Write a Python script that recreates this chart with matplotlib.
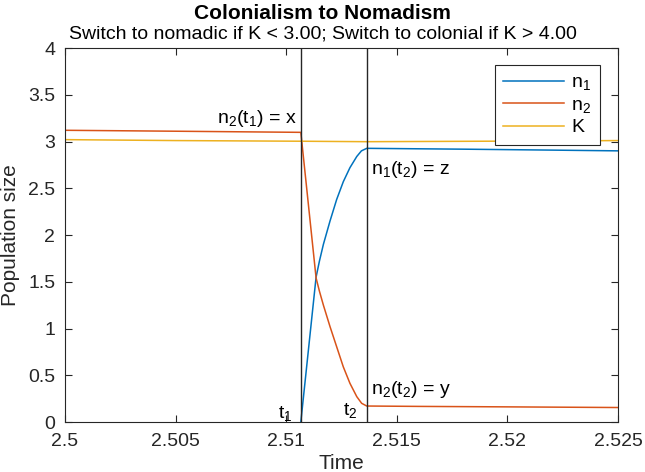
import matplotlib
matplotlib.use("Agg")
import matplotlib.pyplot as plt
import numpy as np

plt.rcParams['font.family'] = ['Liberation Sans', 'DejaVu Sans']
plt.rcParams['mathtext.fontset'] = 'custom'
plt.rcParams['mathtext.rm'] = 'Liberation Sans'
plt.rcParams['mathtext.default'] = 'regular'

# switch times
t1 = 2.51066
t2 = 2.51364

# n1 (colonial) - starts at t1
n1_t = [t1, 2.51135, 2.51150, 2.51168, 2.51198, 2.51228, 2.51258, 2.51288, 2.51319, 2.51340, t2,
        2.5160, 2.5180, 2.5200, 2.5220, 2.5250]
n1_v = [0.0, 1.55, 1.72, 1.90, 2.15, 2.38, 2.57, 2.72, 2.84, 2.90, 2.927,
        2.922, 2.918, 2.913, 2.908, 2.900]

# n2 (nomadic)
n2_t = [2.5000, 2.5050, t1, 2.51135, 2.51150, 2.51168, 2.51198, 2.51228, 2.51258, 2.51288, 2.51319,
        2.51341, t2, 2.5160, 2.5200, 2.5250]
n2_v = [3.120, 3.110, 3.098, 1.54, 1.40, 1.25, 1.02, 0.805, 0.59, 0.414, 0.271,
        0.20, 0.171, 0.167, 0.162, 0.155]

# carrying capacity
K_t = [2.5000, 2.5050, t1, t2, 2.5200, 2.5250]
K_v = [3.020, 3.010, 3.003, 2.998, 3.004, 3.010]

blue = '#0072BD'
orange = '#D95319'
yellow = '#EDB120'
dark = '#262626'

fig = plt.figure(figsize=(6.45, 4.72), dpi=100)
ax = fig.add_axes([0.1008, 0.1059, 0.8574, 0.7924])

ax.plot(n1_t, n1_v, color=blue, lw=1.1, label='n$_1$')
ax.plot(n2_t, n2_v, color=orange, lw=1.1, label='n$_2$')
ax.plot(K_t, K_v, color=yellow, lw=1.1, label='K')
ax.axvline(t1, color=dark, lw=1.0)
ax.axvline(t2, color=dark, lw=1.0)

ax.set_xlim(2.5, 2.525)
ax.set_ylim(0, 4)
ax.set_xticks([2.5, 2.505, 2.51, 2.515, 2.52, 2.525])
ax.set_xticklabels(['2.5', '2.505', '2.51', '2.515', '2.52', '2.525'])
ax.set_yticks(np.arange(0, 4.01, 0.5))
ax.set_yticklabels(['0', '0.5', '1', '1.5', '2', '2.5', '3', '3.5', '4'])
ax.tick_params(direction='in', top=True, right=True, labelsize=14, colors=dark,
               length=5, width=0.8)
ax.tick_params(axis='x', pad=8)
ax.tick_params(axis='y', pad=7)
for s in ax.spines.values():
    s.set_color(dark)
    s.set_linewidth(0.8)

ax.set_xlabel('Time', fontsize=15, color=dark, labelpad=3)
ax.set_ylabel('Population size', fontsize=15, color=dark, labelpad=6)

fig.text(0.5, 0.972, 'Colonialism to Nomadism', ha='center', va='center',
         fontsize=15, fontweight='bold', color='black')
fig.text(0.5, 0.929, 'Switch to nomadic if K < 3.00; Switch to colonial if K > 4.00',
         ha='center', va='center', fontsize=14, color='black')

ax.text(t1 - 0.0002, 3.25, 'n$_2$(t$_1$) = x', ha='right', va='center', fontsize=14)
ax.text(t2 + 0.0002, 2.70, 'n$_1$(t$_2$) = z', ha='left', va='center', fontsize=14)
ax.text(t2 + 0.0002, 0.35, 'n$_2$(t$_2$) = y', ha='left', va='center', fontsize=14)
ax.text(t1 - 0.0004, 0.09, 't$_1$', ha='right', va='center', fontsize=14)
ax.text(t2 - 0.0004, 0.12, 't$_2$', ha='right', va='center', fontsize=14)

leg = ax.legend(loc='upper right', bbox_to_anchor=(0.9675, 0.9545), borderaxespad=0,
                fontsize=14, handlelength=3.1, handletextpad=0.4, labelspacing=0.2,
                borderpad=0.45, fancybox=False, framealpha=1)
leg.get_frame().set_edgecolor(dark)
leg.get_frame().set_linewidth(0.8)

fig.savefig('out.png', dpi=100)
